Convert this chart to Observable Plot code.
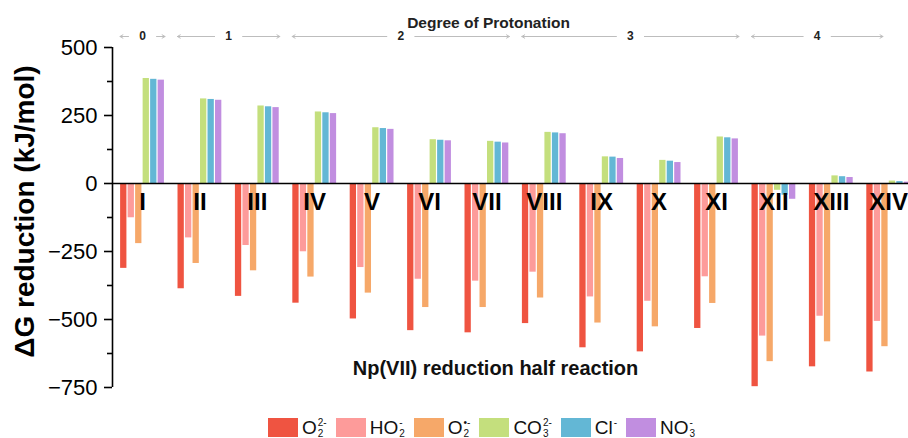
<!DOCTYPE html>
<html>
<head>
<meta charset="utf-8">
<script src="https://cdn.jsdelivr.net/npm/d3@7"></script>
<script src="https://cdn.jsdelivr.net/npm/@observablehq/plot@0.6"></script>
<style>
  html, body { margin: 0; padding: 0; background: #fff; overflow: hidden; }
  body { width: 908px; height: 438px; font-family: "Liberation Sans", Arial, sans-serif; }
  #legend { display: flex; align-items: flex-start; margin-top: 7px; padding-left: 268px; height: 24px;
            font-family: "Liberation Sans Narrow", "Liberation Sans", Arial, sans-serif; font-size: 19px; color: #111; }
  .item { display: flex; align-items: flex-start; margin-right: 9px; }
  .sw { width: 30px; height: 19px; margin-right: 4px; margin-top: 1px; }
  .lab { display: inline-flex; align-items: flex-start; line-height: 22px; }
  .ss { display: inline-flex; flex-direction: column; font-size: 10px; line-height: 11px; margin-left: 1px; }
</style>
</head>
<body>
<div id="chart"></div>
<div id="legend"></div>
<script>
// ---------- data ----------
const categories = ["I","II","III","IV","V","VI","VII","VIII","IX","X","XI","XII","XIII","XIV"];
const seriesKeys = ["O2 2-","HO2 -","O2 •-","CO3 2-","Cl -","NO3 -"];
const seriesColors = ["#EF5441","#FD9B9A","#F6A869","#C4DF7D","#63B7D5","#C18EE0"];
const legendBase = ["O","HO","O","CO","Cl","NO"];
const legendSub  = ["2","2","2","3","","3"];
const legendSup  = ["2-","-","•-","2-","-","-"];

const O2_2  = [-312,-387,-415,-440,-498,-541,-549,-515,-604,-619,-533,-747,-674,-693];
const HO2   = [-126,-200,-228,-251,-309,-352,-359,-326,-417,-433,-343,-561,-488,-507];
const O2rad = [-221,-294,-321,-344,-403,-456,-456,-421,-513,-527,-441,-655,-582,-600];
const CO3   = [386,311,285,263,205,161,155,188,98,85,171,-25,28,9];
const Cl    = [383,309,282,260,202,159,152,186,97,82,168,-43,25,7];
const NO3   = [380,306,279,257,199,157,149,183,92,77,164,-58,22,5];
const seriesValues = [O2_2, HO2, O2rad, CO3, Cl, NO3];

const degrees     = ["0","1","2","3","4"];
const degreeFrom  = ["I","II","IV","VIII","XII"];
const degreeTo    = ["I","III","VII","XI","XIV"];

const yMajor = [500,250,0,-250,-500,-750];
const yMinor = [375,125,-125,-375,-625];

// ---------- layout helpers ----------
const slot = 0.1307;            // width of one bar slot, in group units
const half = 3 * slot;          // half a group
const xDomain = [-0.523, 13.345];
const yDomain = [-750, 500];

const rows = [];
categories.forEach((c, i) => {
  seriesKeys.forEach((s, j) => {
    rows.push({cat: c, series: s, value: seriesValues[j][i],
               x1: i - half + j * slot, x2: i - half + (j + 1) * slot});
  });
});

const deg = degrees.map((d, k) => {
  const start = categories.indexOf(degreeFrom[k]) - half;
  const end = Math.min(categories.indexOf(degreeTo[k]) + half, categories.length - 1.1);
  return {degree: d, start, end, mid: (start + end) / 2};
});

const fmt = d => d < 0 ? "\u2212" + Math.abs(d) : String(d);

const chart = Plot.plot({
  width: 908,
  height: 410,
  marginLeft: 112,
  marginRight: 0,
  marginTop: 47,
  marginBottom: 23,
  style: {fontFamily: "'Liberation Sans', Arial, sans-serif", background: "#fff", color: "#000"},
  x: {domain: xDomain, axis: null},
  y: {domain: yDomain, axis: null, label: null},
  color: {domain: seriesKeys, range: seriesColors},
  marks: [
    Plot.rectY(rows, {x1: "x1", x2: "x2", y: "value", fill: "series", insetLeft: 0.6, insetRight: 0.6}),
    Plot.ruleY([0], {stroke: "#000", strokeWidth: 1.6}),
    Plot.ruleX([xDomain[0]], {y1: yDomain[0], y2: yDomain[1], stroke: "#000", strokeWidth: 1.6}),
    Plot.axisY({ticks: yMajor, tickSize: 8, tickPadding: 7, fontSize: 22, tickFormat: fmt, strokeWidth: 1.6, label: null}),
    Plot.axisY({ticks: yMinor, tickSize: 5, tickFormat: () => "", strokeWidth: 1.6, label: null}),
    Plot.text(categories, {x: (d, i) => i, y: 0, dy: 19, text: d => d, fontSize: 24, fontWeight: "bold", fill: "#000"}),
    Plot.text(["Np(VII) reduction half reaction"], {frameAnchor: "bottom", dy: -13, dx: -15, fontSize: 20, fontWeight: "bold", fill: "#111"}),
    Plot.text(["\u0394G reduction (kJ/mol)"], {frameAnchor: "left", textAnchor: "middle", rotate: -90, dx: -87, dy: -6, fontSize: 28, fontWeight: "bold", fill: "#000"}),
    Plot.text(["Degree of Protonation"], {frameAnchor: "top", dy: -31, dx: -22, fontSize: 15.5, fontWeight: "bold", fill: "#222"}),
    Plot.arrow(deg, {x1: "mid", x2: "start", y1: () => yDomain[1], y2: () => yDomain[1], dy: -11, insetStart: 14, stroke: "#bdbdbd", strokeWidth: 1, headLength: 5}),
    Plot.arrow(deg, {x1: "mid", x2: "end", y1: () => yDomain[1], y2: () => yDomain[1], dy: -11, insetStart: 14, stroke: "#bdbdbd", strokeWidth: 1, headLength: 5}),
    Plot.text(deg, {x: "mid", y: () => yDomain[1], dy: -11, text: "degree", fontSize: 12, fontWeight: "bold", fill: "#222"})
  ]
});
document.getElementById("chart").appendChild(chart);

// ---------- legend ----------
const legend = document.getElementById("legend");
seriesKeys.forEach((s, j) => {
  const item = document.createElement("div");
  item.className = "item";
  item.innerHTML = `<div class="sw" style="background:${seriesColors[j]}"></div>` +
    `<span class="lab">${legendBase[j]}<span class="ss"><span>${legendSup[j]}</span><span>${legendSub[j] || "&nbsp;"}</span></span></span>`;
  legend.appendChild(item);
});
</script>
</body>
</html>
